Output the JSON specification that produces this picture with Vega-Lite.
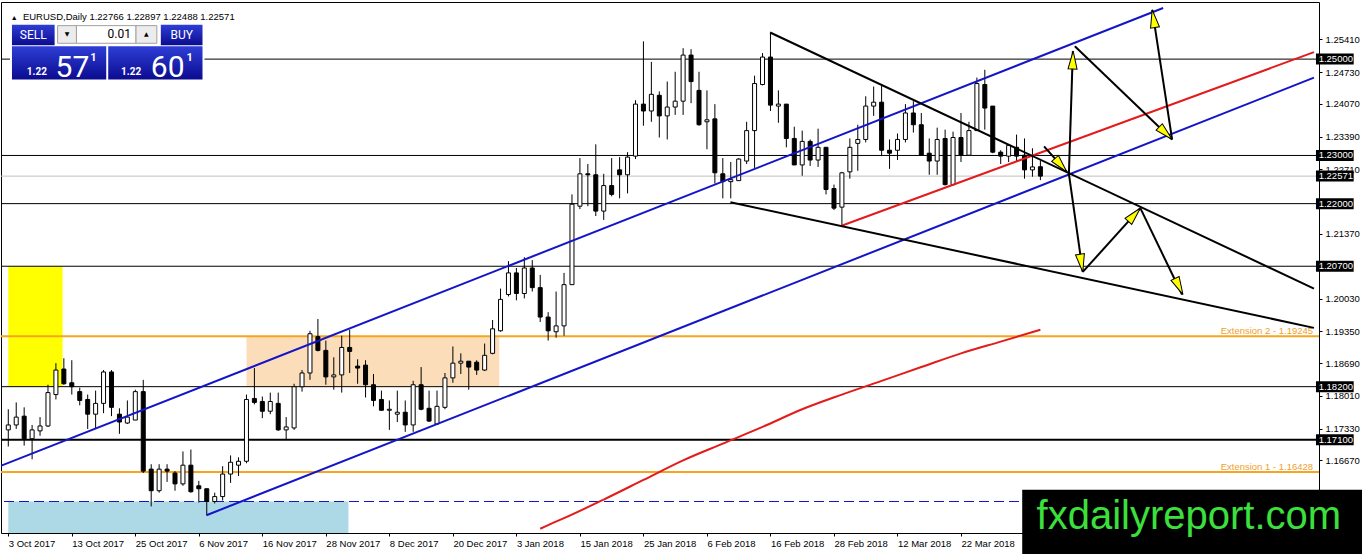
{
  "$schema": "https://vega.github.io/schema/vega-lite/v6.json",
  "description": "EURUSD daily candles, Oct 2017 - Apr 2018, with channel, trendlines and levels",
  "width": 1318,
  "height": 531,
  "autosize": {"type": "none"},
  "padding": {"left": 1, "top": 2, "right": 43, "bottom": 21},
  "background": "white",
  "config": {
    "view": {"stroke": "black", "strokeWidth": 1},
    "axis": {"labelOverlap": false, "labelFlush": false, "labelBound": false, "grid": false, "domain": false, "title": null,
             "labelFont": "Liberation Sans", "labelFontSize": 9.5, "labelColor": "black", "tickColor": "black", "tickSize": 3}
  },
  "datasets": {
    "candles": [
      {"i":0,"o":1.17303,"h":1.17731,"l":1.16957,"c":1.17405},
      {"i":1,"o":1.17405,"h":1.17873,"l":1.17323,"c":1.17568},
      {"i":2,"o":1.17588,"h":1.17771,"l":1.16977,"c":1.17120},
      {"i":3,"o":1.17120,"h":1.17405,"l":1.16692,"c":1.17303},
      {"i":4,"o":1.17282,"h":1.17568,"l":1.17181,"c":1.17384},
      {"i":5,"o":1.17384,"h":1.18240,"l":1.17364,"c":1.18077},
      {"i":6,"o":1.18036,"h":1.18688,"l":1.17934,"c":1.18545},
      {"i":7,"o":1.18566,"h":1.18790,"l":1.18240,"c":1.18260},
      {"i":8,"o":1.18281,"h":1.18749,"l":1.18036,"c":1.18199},
      {"i":9,"o":1.18097,"h":1.18179,"l":1.17812,"c":1.17914},
      {"i":10,"o":1.17934,"h":1.18036,"l":1.17323,"c":1.17629},
      {"i":11,"o":1.17629,"h":1.18118,"l":1.17323,"c":1.17853},
      {"i":12,"o":1.17853,"h":1.18545,"l":1.17649,"c":1.18505},
      {"i":13,"o":1.18505,"h":1.18545,"l":1.17588,"c":1.17771},
      {"i":14,"o":1.17629,"h":1.17751,"l":1.17221,"c":1.17466},
      {"i":15,"o":1.17445,"h":1.17914,"l":1.17425,"c":1.17568},
      {"i":16,"o":1.17507,"h":1.18138,"l":1.17507,"c":1.18097},
      {"i":17,"o":1.18097,"h":1.18342,"l":1.16407,"c":1.16447},
      {"i":18,"o":1.16488,"h":1.16590,"l":1.15714,"c":1.16040},
      {"i":19,"o":1.16040,"h":1.16590,"l":1.15999,"c":1.16488},
      {"i":20,"o":1.16488,"h":1.16590,"l":1.16223,"c":1.16447},
      {"i":21,"o":1.16407,"h":1.16447,"l":1.16040,"c":1.16182},
      {"i":22,"o":1.16182,"h":1.16855,"l":1.16142,"c":1.16570},
      {"i":23,"o":1.16570,"h":1.16895,"l":1.15999,"c":1.16019},
      {"i":24,"o":1.16142,"h":1.16244,"l":1.15795,"c":1.16081},
      {"i":25,"o":1.16081,"h":1.16081,"l":1.15531,"c":1.15816},
      {"i":26,"o":1.15816,"h":1.15999,"l":1.15775,"c":1.15918},
      {"i":27,"o":1.15918,"h":1.16549,"l":1.15836,"c":1.16386},
      {"i":28,"o":1.16386,"h":1.16773,"l":1.16203,"c":1.16631},
      {"i":29,"o":1.16570,"h":1.16732,"l":1.16345,"c":1.16651},
      {"i":30,"o":1.16651,"h":1.18036,"l":1.16610,"c":1.17934},
      {"i":31,"o":1.17955,"h":1.18586,"l":1.17832,"c":1.17873},
      {"i":32,"o":1.17893,"h":1.17995,"l":1.17547,"c":1.17690},
      {"i":33,"o":1.17690,"h":1.18077,"l":1.17629,"c":1.17893},
      {"i":34,"o":1.17853,"h":1.18077,"l":1.17282,"c":1.17303},
      {"i":35,"o":1.17303,"h":1.17568,"l":1.17099,"c":1.17364},
      {"i":36,"o":1.17343,"h":1.18260,"l":1.17303,"c":1.18199},
      {"i":37,"o":1.18199,"h":1.18545,"l":1.18097,"c":1.18484},
      {"i":38,"o":1.18484,"h":1.19360,"l":1.18342,"c":1.19299},
      {"i":39,"o":1.19238,"h":1.19605,"l":1.18932,"c":1.18953},
      {"i":40,"o":1.18953,"h":1.19157,"l":1.18240,"c":1.18403},
      {"i":41,"o":1.18403,"h":1.18810,"l":1.18138,"c":1.18444},
      {"i":42,"o":1.18444,"h":1.19258,"l":1.18077,"c":1.19014},
      {"i":43,"o":1.19014,"h":1.19381,"l":1.18484,"c":1.18932},
      {"i":44,"o":1.18627,"h":1.18769,"l":1.18260,"c":1.18586},
      {"i":45,"o":1.18647,"h":1.18749,"l":1.17975,"c":1.18240},
      {"i":46,"o":1.18240,"h":1.18464,"l":1.17792,"c":1.17914},
      {"i":47,"o":1.17934,"h":1.18118,"l":1.17710,"c":1.17710},
      {"i":48,"o":1.17710,"h":1.17914,"l":1.17303,"c":1.17731},
      {"i":49,"o":1.17629,"h":1.18118,"l":1.17466,"c":1.17669},
      {"i":50,"o":1.17669,"h":1.17914,"l":1.17262,"c":1.17405},
      {"i":51,"o":1.17405,"h":1.18321,"l":1.17262,"c":1.18240},
      {"i":52,"o":1.18240,"h":1.18607,"l":1.17710,"c":1.17731},
      {"i":53,"o":1.17751,"h":1.18118,"l":1.17466,"c":1.17486},
      {"i":54,"o":1.17425,"h":1.18118,"l":1.17425,"c":1.17792},
      {"i":55,"o":1.17771,"h":1.18484,"l":1.17731,"c":1.18382},
      {"i":56,"o":1.18382,"h":1.19034,"l":1.18281,"c":1.18688},
      {"i":57,"o":1.18688,"h":1.18892,"l":1.18464,"c":1.18729},
      {"i":58,"o":1.18729,"h":1.18729,"l":1.18138,"c":1.18607},
      {"i":59,"o":1.18708,"h":1.18749,"l":1.18444,"c":1.18545},
      {"i":60,"o":1.18545,"h":1.19095,"l":1.18525,"c":1.18851},
      {"i":61,"o":1.18892,"h":1.19584,"l":1.18871,"c":1.19401},
      {"i":62,"o":1.19360,"h":1.20236,"l":1.19340,"c":1.20012},
      {"i":63,"o":1.20114,"h":1.20806,"l":1.20073,"c":1.20562},
      {"i":64,"o":1.20562,"h":1.20664,"l":1.19992,"c":1.20134},
      {"i":65,"o":1.20134,"h":1.20888,"l":1.20032,"c":1.20664},
      {"i":66,"o":1.20664,"h":1.20827,"l":1.20175,"c":1.20256},
      {"i":67,"o":1.20256,"h":1.20521,"l":1.19544,"c":1.19645},
      {"i":68,"o":1.19645,"h":1.19747,"l":1.19157,"c":1.19360},
      {"i":69,"o":1.19340,"h":1.20175,"l":1.19218,"c":1.19462},
      {"i":70,"o":1.19462,"h":1.20562,"l":1.19258,"c":1.20318},
      {"i":71,"o":1.20318,"h":1.22192,"l":1.20318,"c":1.21988},
      {"i":72,"o":1.21947,"h":1.22945,"l":1.21886,"c":1.22619},
      {"i":73,"o":1.22619,"h":1.22823,"l":1.21947,"c":1.22599},
      {"i":74,"o":1.22599,"h":1.23231,"l":1.21743,"c":1.21845},
      {"i":75,"o":1.21845,"h":1.22619,"l":1.21662,"c":1.22375},
      {"i":76,"o":1.22375,"h":1.22945,"l":1.22151,"c":1.22192},
      {"i":77,"o":1.22701,"h":1.22966,"l":1.22110,"c":1.22599},
      {"i":78,"o":1.22599,"h":1.23068,"l":1.22212,"c":1.22966},
      {"i":79,"o":1.22986,"h":1.24147,"l":1.22925,"c":1.24066},
      {"i":80,"o":1.24066,"h":1.25369,"l":1.23618,"c":1.23923},
      {"i":81,"o":1.23923,"h":1.24942,"l":1.23699,"c":1.24269},
      {"i":82,"o":1.24249,"h":1.24330,"l":1.23373,"c":1.23821},
      {"i":83,"o":1.23821,"h":1.24534,"l":1.23332,"c":1.24005},
      {"i":84,"o":1.24005,"h":1.24738,"l":1.23842,"c":1.24127},
      {"i":85,"o":1.24127,"h":1.25227,"l":1.23842,"c":1.25084},
      {"i":86,"o":1.25084,"h":1.25206,"l":1.24086,"c":1.24534},
      {"i":87,"o":1.24351,"h":1.24738,"l":1.23618,"c":1.23638},
      {"i":88,"o":1.23699,"h":1.24351,"l":1.23129,"c":1.23740},
      {"i":89,"o":1.23760,"h":1.24066,"l":1.22416,"c":1.22640},
      {"i":90,"o":1.22619,"h":1.22945,"l":1.22110,"c":1.22456},
      {"i":91,"o":1.22456,"h":1.22864,"l":1.22110,"c":1.22497},
      {"i":92,"o":1.22477,"h":1.22945,"l":1.22477,"c":1.22925},
      {"i":93,"o":1.22884,"h":1.23699,"l":1.22823,"c":1.23516},
      {"i":94,"o":1.23516,"h":1.24656,"l":1.22742,"c":1.24493},
      {"i":95,"o":1.24473,"h":1.25125,"l":1.24453,"c":1.25043},
      {"i":96,"o":1.25043,"h":1.25553,"l":1.23923,"c":1.24045},
      {"i":97,"o":1.24025,"h":1.24351,"l":1.23679,"c":1.24066},
      {"i":98,"o":1.24066,"h":1.24066,"l":1.23169,"c":1.23353},
      {"i":99,"o":1.23353,"h":1.23597,"l":1.22803,"c":1.22803},
      {"i":100,"o":1.22803,"h":1.23516,"l":1.22579,"c":1.23292},
      {"i":101,"o":1.23292,"h":1.23332,"l":1.22782,"c":1.22905},
      {"i":102,"o":1.22905,"h":1.23556,"l":1.22762,"c":1.23169},
      {"i":103,"o":1.23169,"h":1.23169,"l":1.22192,"c":1.22293},
      {"i":104,"o":1.22314,"h":1.22395,"l":1.21866,"c":1.21906},
      {"i":105,"o":1.21927,"h":1.22660,"l":1.21540,"c":1.22640},
      {"i":106,"o":1.22660,"h":1.23353,"l":1.22518,"c":1.23169},
      {"i":107,"o":1.23251,"h":1.23638,"l":1.22681,"c":1.23332},
      {"i":108,"o":1.23332,"h":1.24229,"l":1.23271,"c":1.24025},
      {"i":109,"o":1.24025,"h":1.24432,"l":1.23821,"c":1.24106},
      {"i":110,"o":1.24106,"h":1.24453,"l":1.22986,"c":1.23108},
      {"i":111,"o":1.23108,"h":1.23332,"l":1.22721,"c":1.23047},
      {"i":112,"o":1.23108,"h":1.23455,"l":1.22905,"c":1.23332},
      {"i":113,"o":1.23332,"h":1.24066,"l":1.23271,"c":1.23882},
      {"i":114,"o":1.23882,"h":1.24127,"l":1.23475,"c":1.23638},
      {"i":115,"o":1.23638,"h":1.23882,"l":1.23006,"c":1.23006},
      {"i":116,"o":1.23047,"h":1.23353,"l":1.22599,"c":1.22884},
      {"i":117,"o":1.22884,"h":1.23577,"l":1.22599,"c":1.23332},
      {"i":118,"o":1.23353,"h":1.23536,"l":1.22375,"c":1.22395},
      {"i":119,"o":1.22395,"h":1.23495,"l":1.22375,"c":1.23373},
      {"i":120,"o":1.23373,"h":1.23882,"l":1.22864,"c":1.23006},
      {"i":121,"o":1.23006,"h":1.23699,"l":1.23006,"c":1.23516},
      {"i":122,"o":1.23516,"h":1.24616,"l":1.23516,"c":1.24493},
      {"i":123,"o":1.24473,"h":1.24779,"l":1.23536,"c":1.23984},
      {"i":124,"o":1.24025,"h":1.24025,"l":1.23047,"c":1.23068},
      {"i":125,"o":1.23068,"h":1.23108,"l":1.22823,"c":1.22986},
      {"i":126,"o":1.22986,"h":1.23231,"l":1.22864,"c":1.23210},
      {"i":127,"o":1.23169,"h":1.23434,"l":1.22864,"c":1.22986},
      {"i":128,"o":1.23006,"h":1.23353,"l":1.22518,"c":1.22701},
      {"i":129,"o":1.22701,"h":1.23149,"l":1.22558,"c":1.22762},
      {"i":130,"o":1.22766,"h":1.22897,"l":1.22488,"c":1.22571}
    ]
  },
  "layer": [
    {
      "data": {"name": "candles"},
      "mark": {"type": "rule", "color": "black", "strokeWidth": 1, "opacity": 0},
      "encoding": {
        "x": {
          "field": "i", "type": "quantitative",
          "scale": {"domain": [-0.2875, 164.4625], "nice": false, "zero": false},
          "axis": {
            "title": null, "grid": false, "domain": false, "tickCount": 40,
            "values": [0, 8, 16, 24, 32, 40, 48, 56, 64, 72, 80, 88, 96, 104, 112, 120],
            "labelExpr": "['3 Oct 2017','13 Oct 2017','25 Oct 2017','6 Nov 2017','16 Nov 2017','28 Nov 2017','8 Dec 2017','20 Dec 2017','3 Jan 2018','15 Jan 2018','25 Jan 2018','6 Feb 2018','16 Feb 2018','28 Feb 2018','12 Mar 2018','22 Mar 2018'][datum.value / 8]",
            "labelAlign": "left", "labelPadding": 2, "labelOverlap": false
          }
        },
        "y": {
          "field": "l", "type": "quantitative",
          "scale": {"domain": [1.15266, 1.26082], "nice": false, "zero": false},
          "axis": {
            "orient": "right", "title": null, "grid": false, "domain": false, "tickCount": 40,
            "values": [1.1599, 1.1667, 1.1733, 1.1801, 1.1869, 1.1935, 1.2003, 1.2137, 1.2271, 1.2339, 1.2407, 1.2473, 1.2541],
            "format": ".5f", "labelPadding": 3, "labelOverlap": false
          }
        },
        "y2": {"field": "h"}
      }
    },
    {
      "data": {"values": [{"a": 0, "b": 6.84, "lo": 1.182, "hi": 1.207}]},
      "mark": {"type": "rect", "color": "#FFFF00", "clip": true},
      "encoding": {
        "x": {"field": "a", "type": "quantitative"},
        "x2": {"field": "b"},
        "y": {"field": "lo", "type": "quantitative"},
        "y2": {"field": "hi"}
      }
    },
    {
      "data": {"values": [{"a": 30, "b": 61.84, "lo": 1.182, "hi": 1.19245}]},
      "mark": {"type": "rect", "color": "#FCDDBA", "clip": true},
      "encoding": {
        "x": {"field": "a", "type": "quantitative"},
        "x2": {"field": "b"},
        "y": {"field": "lo", "type": "quantitative"},
        "y2": {"field": "hi"}
      }
    },
    {
      "data": {"values": [{"a": 0, "b": 42.84, "lo": 1.14, "hi": 1.15816}]},
      "mark": {"type": "rect", "color": "#ADD8E6", "clip": true},
      "encoding": {
        "x": {"field": "a", "type": "quantitative"},
        "x2": {"field": "b"},
        "y": {"field": "lo", "type": "quantitative"},
        "y2": {"field": "hi"}
      }
    },
    {
      "data": {"values": [{"level": 1.15816}]},
      "mark": {"type": "rule", "color": "#1414C8", "strokeWidth": 1, "strokeDash": [10, 5]},
      "encoding": {"y": {"field": "level", "type": "quantitative"}}
    },
    {
      "data": {"values": [{"level": 1.25}, {"level": 1.23}, {"level": 1.22}, {"level": 1.207}, {"level": 1.182}]},
      "mark": {"type": "rule", "color": "black", "strokeWidth": 1},
      "encoding": {"y": {"field": "level", "type": "quantitative"}}
    },
    {
      "data": {"values": [{"level": 1.171}]},
      "mark": {"type": "rule", "color": "black", "strokeWidth": 2},
      "encoding": {"y": {"field": "level", "type": "quantitative"}}
    },
    {
      "data": {"values": [{"level": 1.22571}]},
      "mark": {"type": "rule", "color": "#C0C0C0", "strokeWidth": 1},
      "encoding": {"y": {"field": "level", "type": "quantitative"}}
    },
    {
      "data": {"values": [{"level": 1.19245}, {"level": 1.16428}]},
      "mark": {"type": "rule", "color": "#F7A51C", "strokeWidth": 2},
      "encoding": {"y": {"field": "level", "type": "quantitative"}}
    },
    {
      "data": {"values": [{"i": 164.35, "p": 1.19299, "t": "Extension 2 - 1.19245"}, {"i": 164.35, "p": 1.16468, "t": "Extension 1 - 1.16428"}]},
      "mark": {"type": "text", "align": "right", "baseline": "alphabetic", "color": "#F0A030", "font": "Liberation Sans", "fontSize": 9.5},
      "encoding": {
        "x": {"field": "i", "type": "quantitative"},
        "y": {"field": "p", "type": "quantitative"},
        "text": {"field": "t"}
      }
    },
    {
      "data": {"values": [
        {"i": 67, "ma": 1.15250}, {"i": 68, "ma": 1.15327}, {"i": 70, "ma": 1.15470},
        {"i": 75, "ma": 1.15857}, {"i": 80, "ma": 1.16264}, {"i": 85, "ma": 1.16671},
        {"i": 90, "ma": 1.17018}, {"i": 95, "ma": 1.17364}, {"i": 100, "ma": 1.17731},
        {"i": 105, "ma": 1.18036}, {"i": 110, "ma": 1.18321}, {"i": 115, "ma": 1.18607},
        {"i": 120, "ma": 1.18892}, {"i": 125, "ma": 1.19136}, {"i": 130, "ma": 1.19381}
      ]},
      "mark": {"type": "line", "color": "#E31B1B", "strokeWidth": 2, "clip": true, "interpolate": "monotone"},
      "encoding": {
        "x": {"field": "i", "type": "quantitative"},
        "y": {"field": "ma", "type": "quantitative"}
      }
    },
    {
      "data": {"name": "candles"},
      "mark": {"type": "rule", "color": "black", "strokeWidth": 1},
      "encoding": {
        "x": {"field": "i", "type": "quantitative"},
        "y": {"field": "l", "type": "quantitative"},
        "y2": {"field": "h"}
      }
    },
    {
      "data": {"name": "candles"},
      "mark": {"type": "bar", "width": 4, "stroke": "black", "strokeWidth": 1},
      "encoding": {
        "x": {"field": "i", "type": "quantitative"},
        "y": {"field": "o", "type": "quantitative"},
        "y2": {"field": "c"},
        "fill": {"condition": {"test": "datum.c >= datum.o", "value": "white"}, "value": "black"}
      }
    },
    {
      "data": {"values": [{"a": -1, "pa": 1.16552, "b": 145.46, "pb": 1.26062}, {"a": 24.96, "pa": 1.15531, "b": 164.46, "pb": 1.24616}]},
      "mark": {"type": "rule", "color": "#1414C8", "strokeWidth": 2, "clip": true},
      "encoding": {
        "x": {"field": "a", "type": "quantitative"},
        "y": {"field": "pa", "type": "quantitative"},
        "x2": {"field": "b"},
        "y2": {"field": "pb"}
      }
    },
    {
      "data": {"values": [{"a": 104.96, "pa": 1.21540, "b": 164.46, "pb": 1.25145}]},
      "mark": {"type": "rule", "color": "#E31B1B", "strokeWidth": 2, "clip": true},
      "encoding": {
        "x": {"field": "a", "type": "quantitative"},
        "y": {"field": "pa", "type": "quantitative"},
        "x2": {"field": "b"},
        "y2": {"field": "pb"}
      }
    },
    {
      "data": {"values": [
        {"a": 95.96, "pa": 1.25553, "b": 164.46, "pb": 1.20236},
        {"a": 90.96, "pa": 1.22029, "b": 164.46, "pb": 1.19421},
        {"a": 130.46, "pa": 1.23190, "b": 133.34, "pb": 1.22660},
        {"a": 133.59, "pa": 1.22619, "b": 134.09, "pb": 1.25166},
        {"a": 134.34, "pa": 1.25267, "b": 146.59, "pb": 1.23332},
        {"a": 146.59, "pa": 1.23332, "b": 144.09, "pb": 1.26021},
        {"a": 133.59, "pa": 1.22619, "b": 135.34, "pb": 1.20582},
        {"a": 135.34, "pa": 1.20582, "b": 142.59, "pb": 1.21906},
        {"a": 142.59, "pa": 1.21906, "b": 147.84, "pb": 1.20114}
      ]},
      "mark": {"type": "rule", "color": "black", "strokeWidth": 2, "clip": true},
      "encoding": {
        "x": {"field": "a", "type": "quantitative"},
        "y": {"field": "pa", "type": "quantitative"},
        "x2": {"field": "b"},
        "y2": {"field": "pb"}
      }
    },
    {
      "data": {"values": [
        {"a": 132.59, "pa": 1.22797, "ang": 139},
        {"a": 134.09, "pa": 1.24982, "ang": 2},
        {"a": 145.78, "pa": 1.23461, "ang": 134},
        {"a": 144.26, "pa": 1.25840, "ang": -9},
        {"a": 135.16, "pa": 1.20764, "ang": 171},
        {"a": 141.84, "pa": 1.21770, "ang": 42},
        {"a": 147.46, "pa": 1.20279, "ang": 154}
      ]},
      "mark": {"type": "point", "shape": "M0,-1L0.5,1L-0.5,1Z", "size": 324, "filled": true, "fill": "#FFFF00", "stroke": "black", "strokeWidth": 1, "opacity": 1},
      "encoding": {
        "x": {"field": "a", "type": "quantitative"},
        "y": {"field": "pa", "type": "quantitative"},
        "angle": {"field": "ang", "type": "quantitative", "scale": null}
      }
    },
    {
      "data": {"values": [
        {"level": 1.25, "t": "1.25000"}, {"level": 1.23, "t": "1.23000"}, {"level": 1.22571, "t": "1.22571"},
        {"level": 1.22, "t": "1.22000"}, {"level": 1.207, "t": "1.20700"}, {"level": 1.182, "t": "1.18200"},
        {"level": 1.171, "t": "1.17100"}
      ]},
      "layer": [
        {
          "mark": {"type": "bar", "height": 11, "color": "black", "clip": false},
          "encoding": {
            "x": {"datum": 164.71, "type": "quantitative"},
            "x2": {"datum": 169.46},
            "y": {"field": "level", "type": "quantitative"}
          }
        },
        {
          "mark": {"type": "text", "align": "left", "baseline": "middle", "color": "white", "font": "Liberation Sans", "fontSize": 9.5, "clip": false},
          "encoding": {
            "x": {"datum": 165.05, "type": "quantitative"},
            "y": {"field": "level", "type": "quantitative"},
            "text": {"field": "t"}
          }
        }
      ]
    },
    {
      "data": {"values": [{"a": 0.2125, "b": 24.71, "lo": 1.24534, "hi": 1.25756}]},
      "mark": {"type": "rect", "color": "white"},
      "encoding": {
        "x": {"field": "a", "type": "quantitative"},
        "x2": {"field": "b"},
        "y": {"field": "lo", "type": "quantitative"},
        "y2": {"field": "hi"}
      }
    },
    {
      "data": {"values": [
        {"a": 0.4625, "b": 5.8375, "lo": 1.25288, "hi": 1.25716},
        {"a": 19.2125, "b": 24.4625, "lo": 1.25288, "hi": 1.25716},
        {"a": 0.4625, "b": 12.3375, "lo": 1.24575, "hi": 1.25267},
        {"a": 12.5875, "b": 24.4625, "lo": 1.24575, "hi": 1.25267}
      ]},
      "mark": {
        "type": "rect",
        "color": {"gradient": "linear", "x1": 0, "y1": 0, "x2": 0, "y2": 1, "stops": [{"offset": 0, "color": "#2E3ED6"}, {"offset": 1, "color": "#0B0B8F"}]}
      },
      "encoding": {
        "x": {"field": "a", "type": "quantitative"},
        "x2": {"field": "b"},
        "y": {"field": "lo", "type": "quantitative"},
        "y2": {"field": "hi"}
      }
    },
    {
      "data": {"values": [
        {"a": 6.2125, "b": 8.5875, "lo": 1.25329, "hi": 1.25695, "k": "btn"},
        {"a": 8.5875, "b": 16.0875, "lo": 1.25329, "hi": 1.25695, "k": "input"},
        {"a": 16.0875, "b": 18.7125, "lo": 1.25329, "hi": 1.25695, "k": "btn"}
      ]},
      "mark": {"type": "rect", "stroke": "#A0A0A0", "strokeWidth": 1},
      "encoding": {
        "x": {"field": "a", "type": "quantitative"},
        "x2": {"field": "b"},
        "y": {"field": "lo", "type": "quantitative"},
        "y2": {"field": "hi"},
        "fill": {"condition": {"test": "datum.k === 'input'", "value": "white"}, "value": "#ECECEC"}
      }
    },
    {
      "data": {"values": [{"a": 3.15, "p": 1.25492, "t": "SELL"}, {"a": 21.84, "p": 1.25492, "t": "BUY"}]},
      "mark": {"type": "text", "align": "center", "baseline": "middle", "color": "white", "font": "Roboto", "fontSize": 12},
      "encoding": {
        "x": {"field": "a", "type": "quantitative"},
        "y": {"field": "p", "type": "quantitative"},
        "text": {"field": "t"}
      }
    },
    {
      "data": {"values": [{"a": 7.4, "p": 1.25512, "t": "▼"}, {"a": 17.4, "p": 1.25512, "t": "▲"}]},
      "mark": {"type": "text", "align": "center", "baseline": "middle", "color": "black", "font": "DejaVu Sans", "fontSize": 6},
      "encoding": {
        "x": {"field": "a", "type": "quantitative"},
        "y": {"field": "p", "type": "quantitative"},
        "text": {"field": "t"}
      }
    },
    {
      "data": {"values": [{"a": 15.46, "p": 1.25512, "t": "0.01"}]},
      "mark": {"type": "text", "align": "right", "baseline": "middle", "color": "black", "font": "Roboto", "fontSize": 12},
      "encoding": {
        "x": {"field": "a", "type": "quantitative"},
        "y": {"field": "p", "type": "quantitative"},
        "text": {"field": "t"}
      }
    },
    {
      "data": {"values": [{"a": 2.34, "p": 1.24677, "t": "1.22"}, {"a": 14.21, "p": 1.24677, "t": "1.22"}]},
      "mark": {"type": "text", "align": "left", "baseline": "alphabetic", "color": "white", "font": "Roboto", "fontSize": 10, "fontWeight": "bold"},
      "encoding": {
        "x": {"field": "a", "type": "quantitative"},
        "y": {"field": "p", "type": "quantitative"},
        "text": {"field": "t"}
      }
    },
    {
      "data": {"values": [{"a": 5.96, "p": 1.24636, "t": "57"}, {"a": 17.96, "p": 1.24636, "t": "60"}]},
      "mark": {"type": "text", "align": "left", "baseline": "alphabetic", "color": "white", "font": "Roboto", "fontSize": 30},
      "encoding": {
        "x": {"field": "a", "type": "quantitative"},
        "y": {"field": "p", "type": "quantitative"},
        "text": {"field": "t"}
      }
    },
    {
      "data": {"values": [{"a": 10.34, "p": 1.24962, "t": "1"}, {"a": 22.46, "p": 1.24962, "t": "1"}]},
      "mark": {"type": "text", "align": "left", "baseline": "alphabetic", "color": "white", "font": "Roboto", "fontSize": 11, "fontWeight": "bold"},
      "encoding": {
        "x": {"field": "a", "type": "quantitative"},
        "y": {"field": "p", "type": "quantitative"},
        "text": {"field": "t"}
      }
    },
    {
      "data": {"values": [{"a": 0.3, "p": 1.25817, "t": "▲"}, {"a": 1.84, "p": 1.25817, "t": "EURUSD,Daily  1.22766 1.22897 1.22488 1.22571"}]},
      "mark": {"type": "text", "align": "left", "baseline": "alphabetic", "color": "black", "font": "Liberation Sans", "fontSize": 9.5},
      "encoding": {
        "x": {"field": "a", "type": "quantitative"},
        "y": {"field": "p", "type": "quantitative"},
        "text": {"field": "t"},
        "size": {"condition": {"test": "datum.t === '▲'", "value": 7}, "value": 9.5}
      }
    },
    {
      "data": {"values": [{"a": 127.71, "b": 172, "lo": 1.13, "hi": 1.1606}]},
      "mark": {"type": "rect", "color": "black", "clip": false},
      "encoding": {
        "x": {"field": "a", "type": "quantitative"},
        "x2": {"field": "b"},
        "y": {"field": "lo", "type": "quantitative"},
        "y2": {"field": "hi"}
      }
    },
    {
      "data": {"values": [{"a": 148.7, "p": 1.15245, "t": "fxdailyreport.com"}]},
      "mark": {"type": "text", "align": "center", "baseline": "alphabetic", "color": "#3CE03C", "font": "Liberation Sans", "fontSize": 40, "clip": false},
      "encoding": {
        "x": {"field": "a", "type": "quantitative"},
        "y": {"field": "p", "type": "quantitative"},
        "text": {"field": "t"}
      }
    }
  ]
}
